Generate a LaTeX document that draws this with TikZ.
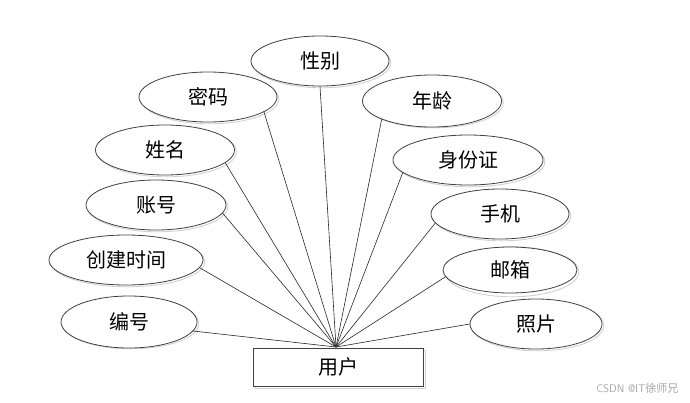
\documentclass[tikz,border=0pt]{standalone}
\usepackage{fontspec}
\newfontfamily\cjk{Noto Sans CJK SC}[Scale=1]
\usetikzlibrary{shapes.geometric}
\tikzset{
  attr/.style={ellipse, draw=black!75, line width=0.8pt, fill=white, minimum width=138pt, minimum height=50pt, inner sep=0pt, font=\cjk\fontsize{20}{22}\selectfont},
  attrshadow/.style={ellipse, draw=black!18, line width=0.9pt, minimum width=138pt, minimum height=50pt, inner sep=0pt},
  ent/.style={rectangle, draw=black!75, line width=0.8pt, fill=white, minimum width=170pt, minimum height=38pt, inner sep=0pt, font=\cjk\fontsize{20}{22}\selectfont},
  link/.style={draw=black!85, line width=0.6pt},
}
\begin{document}
\begin{tikzpicture}[x=1pt,y=-1pt]
\useasboundingbox (0,0) rectangle (690,402);
% shadows
\foreach \x/\y/\w in {320/61/138, 208/97/138, 432/101/139, 165/150/139, 468/160/150, 156/205/140, 500/214/138, 126/260/154, 510/270/134, 129/322/136, 536/324/132}{
  \node[attrshadow, minimum width=\w pt] at (\x+1.8,\y+1.8) {};
}
\node[rectangle, draw=black!18, line width=0.9pt, minimum width=170pt, minimum height=38pt] at (340,369) {};
% entity
\node[ent] (user) at (338,367) {用户};
\coordinate (hub) at (336,347);
% attributes
\node[attr] (xb) at (320,61) {性别};
\node[attr] (mm) at (208,97) {密码};
\node[attr, minimum width=139pt, minimum height=52pt] (nl) at (432,101) {年龄};
\node[attr, minimum width=139pt] (xm) at (165,150) {姓名};
\node[attr, minimum width=150pt] (sfz) at (468,160) {身份证};
\node[attr, minimum width=140pt] (zh) at (156,205) {账号};
\node[attr] (sj) at (500,214) {手机};
\node[attr, minimum width=154pt] (cjsj) at (126,260) {创建时间};
\node[attr, minimum width=134pt, minimum height=46pt] (yx) at (510,270) {邮箱};
\node[attr, minimum width=136pt, minimum height=52pt] (bh) at (129,322) {编号};
\node[attr, minimum width=132pt] (zp) at (536,324) {照片};
% links
\foreach \n/\a in {xb/-90, mm/-15, nl/-160, xm/-12, sfz/-169, zh/-7, sj/-172, cjsj/-6, yx/-174, bh/-8, zp/180}{
  \draw[link] (\n.\a) -- (hub);
}
% watermark
\node[font=\sffamily\fontsize{11}{12}\selectfont, text=black!35, anchor=east] (wm) at (682,388) {CSDN @IT{\cjk 徐师兄}};
\end{tikzpicture}
\end{document}
